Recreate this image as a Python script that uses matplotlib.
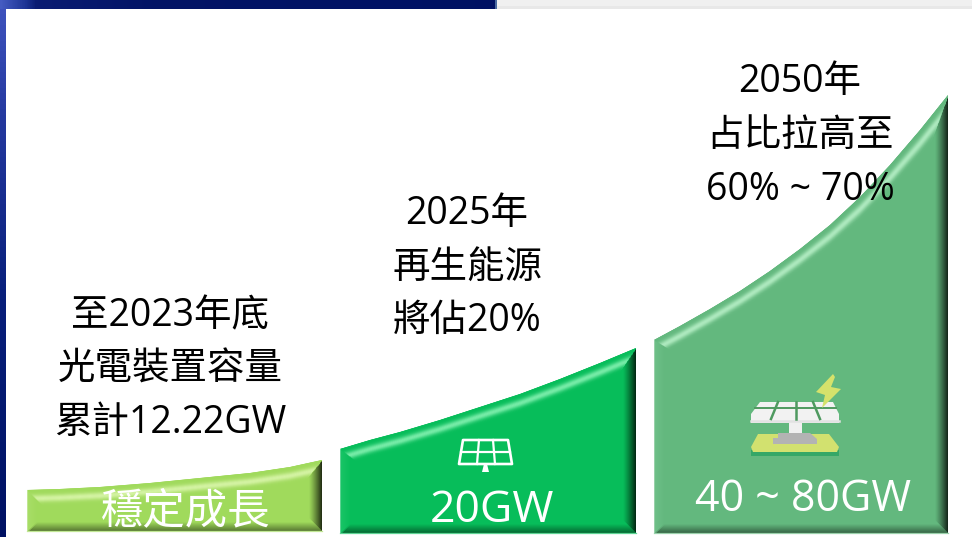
import numpy as np
import matplotlib
matplotlib.use("Agg")
import matplotlib.pyplot as plt
from matplotlib.patches import Polygon, Rectangle
from matplotlib.collections import LineCollection

plt.rcParams['font.family'] = ['Open Sans', 'Noto Sans CJK TC', 'DejaVu Sans']

# top edge of the three growth blocks (pixels)
seg1_x = [27, 60, 100, 150, 200, 250, 290, 322]
seg1_y = [490, 489, 487, 483, 478, 473, 467, 460]
seg1_bottom = 531
seg2_x = [340, 370, 400, 440, 480, 520, 560, 600, 636]
seg2_y = [449, 440, 432, 420, 407, 394, 379, 363, 348]
seg2_bottom = 533
seg3_x = [654, 680, 710, 740, 770, 800, 830, 860, 890, 920, 948]
seg3_y = [340, 326, 309, 291, 271, 249, 225, 197, 165, 130, 95]
seg3_bottom = 533

col_left = ['至2023年底', '光電裝置容量', '累計12.22GW']
col_mid = ['2025年', '再生能源', '將佔20%']
col_right = ['2050年', '占比拉高至', '60% ~ 70%']
block_labels = ['穩定成長', '20GW', '40 ~ 80GW']


def mix(c1, c2, t):
    return tuple(np.array(c1) * (1 - t) + np.array(c2) * t)


def block(ax, xs, ys, bottom, base, light):
    xs = np.array(xs, float)
    ys = np.array(ys, float)
    base = np.array(matplotlib.colors.to_rgb(base))
    light = np.array(matplotlib.colors.to_rgb(light))
    black = np.zeros(3)
    outline = list(zip(xs, ys)) + [(xs[-1], bottom), (xs[0], bottom)]
    shape = Polygon(outline, closed=True, fc=base, ec='none', zorder=2)
    ax.add_patch(shape)
    # slope of the curve, to push the bevel along the normal
    nn = np.sqrt(1 + np.gradient(ys, xs) ** 2)
    w = 17
    for d in np.arange(0, w, 0.5):
        # top band: broad highlight a bit below the edge
        hi = np.exp(-((d - 9) / 3.6) ** 2)
        top_c = mix(base, light, 0.95 * hi)
        right_c = mix(base, black, 0.88 * max(0, 1 - d / 14) ** 1.2)
        bottom_c = mix(base, black, 0.5 * max(0, 1 - d / 10))
        left_c = mix(base, light, 0.15 * max(0, 1 - d / 10))
        # inset outline at distance d
        oy = ys + d * nn
        x0, x1 = xs[0] + d, xs[-1] - d
        keep = (xs > x0) & (xs < x1)
        px = np.r_[x0, xs[keep], x1]
        py = np.r_[np.interp(x0, xs, oy), oy[keep], np.interp(x1, xs, oy)]
        lw = 0.7
        top = LineCollection([np.c_[px, py]], colors=[top_c], linewidths=lw, zorder=3)
        rgt = LineCollection([[(x1, py[-1]), (x1, bottom - d)]], colors=[right_c], linewidths=lw, zorder=3)
        bot = LineCollection([[(x0, bottom - d), (x1, bottom - d)]], colors=[bottom_c], linewidths=lw, zorder=3)
        lft = LineCollection([[(x0, py[0]), (x0, bottom - d)]], colors=[left_c], linewidths=lw, zorder=3)
        for lc in (top, rgt, bot, lft):
            lc.set_clip_path(shape)
            ax.add_collection(lc)
    # thin pale rim at the very bottom
    ax.plot([xs[0], xs[-1]], [bottom, bottom], color=mix(base, np.ones(3), 0.35), lw=0.9, zorder=4)
    ax.plot([xs[0], xs[0]], [ys[0], bottom], color=mix(base, np.ones(3), 0.35), lw=0.7, zorder=4)


def panel_icon(ax):
    # white outlined panel in the 20GW block
    ax.add_patch(Polygon([(463, 440), (508, 440), (512, 464), (459, 464)], closed=True,
                         fc='none', ec='white', lw=1.9, joinstyle='round', zorder=5))
    ax.plot([461, 510], [451.5, 451.5], color='white', lw=1.6, zorder=5)
    ax.plot([479, 477], [440, 464], color='white', lw=1.6, zorder=5)
    ax.plot([493, 495], [440, 464], color='white', lw=1.6, zorder=5)
    ax.add_patch(Polygon([(484, 464), (487, 464), (489, 472), (482, 472)], closed=True,
                         fc='white', ec='none', zorder=5))


def solar_icon(ax):
    # base
    ax.add_patch(Polygon([(751, 450), (839, 450), (839, 456), (751, 456)], closed=True,
                         fc='#35a767', ec='none', zorder=5))
    ax.add_patch(Polygon([(758, 434), (829, 434), (839, 447), (837, 452), (753, 452), (751, 447)],
                         closed=True, fc='#d2e16f', ec='none', zorder=5))
    # stand
    ax.add_patch(Rectangle((789, 422), 13, 12, fc='#f0f0f0', ec='none', zorder=5))
    ax.add_patch(Polygon([(778, 438), (778, 433), (810, 433), (817, 439), (817, 444), (773, 444), (773, 438)],
                         closed=True, fc='#b3b3b3', ec='none', zorder=6))
    # panel
    ax.add_patch(Polygon([(760, 402), (833, 402), (839, 414), (839, 423), (751, 423), (751, 414)],
                         closed=True, fc='#f2f2f2', ec='none', zorder=5))
    ax.plot([751, 839], [420.5, 420.5], color='#e2e2e2', lw=1.8, zorder=6)
    for xa, xb in [(778, 771), (796, 796), (813, 820)]:
        ax.plot([xa, xb], [402, 419], color='#4f9a60', lw=1.8, zorder=6)
    ax.plot([755, 836], [408, 408], color='#4f9a60', lw=1.4, zorder=6)
    # bolt
    ax.add_patch(Polygon([(833, 374), (816, 392), (825, 395), (822, 408), (841, 389),
                          (831, 387), (835, 377)], closed=True, fc='#d5e26b', ec='none', zorder=7))


fig = plt.figure(figsize=(9.72, 5.37), dpi=100)
ax = fig.add_axes([0, 0, 1, 1])
ax.axis('off')

# slide frame: dark blue strip on top, grey on the right, blue edge on the left
blue = np.array([[0.27, 0.36, 0.76], [0.11, 0.20, 0.58], [0.04, 0.11, 0.45], [0.01, 0.08, 0.40], [0.0, 0.07, 0.39]])
pos = np.array([0, 25, 35, 150, 496])
grid = np.linspace(0, 496, 200)
band = np.stack([np.interp(grid, pos, blue[:, i]) for i in range(3)], axis=1)[None, :, :]
ax.imshow(band, extent=[0, 496, 9, 0], aspect='auto', zorder=1)
# left edge goes from light blue at the top to navy at the bottom
grid_v = np.linspace(9, 537, 100)
edge = np.stack([np.interp(grid_v, [9, 120, 300, 537], c) for c in
                 ([0.24, 0.14, 0.03, 0.0], [0.32, 0.22, 0.12, 0.07], [0.74, 0.62, 0.48, 0.39])], axis=1)[:, None, :]
ax.imshow(edge, extent=[0, 5, 537, 9], aspect='auto', zorder=1)
ax.set_xlim(0, 972)
ax.set_ylim(537, 0)
ax.add_patch(Rectangle((496, 0), 476, 9, fc='#f0f0f0', ec='none', zorder=1))
ax.add_patch(Rectangle((496, 6), 476, 3, fc='#e8e8e8', ec='none', zorder=1))
ax.add_patch(Rectangle((495, 0), 2, 9, fc='#4a6aa0', ec='none', zorder=1))

block(ax, seg1_x, seg1_y, seg1_bottom, '#a0da5c', '#d8f5a8')
block(ax, seg2_x, seg2_y, seg2_bottom, '#07bd5a', '#7ff0ae')
block(ax, seg3_x, seg3_y, seg3_bottom, '#63b87e', '#b4eec4')
panel_icon(ax)
solar_icon(ax)

fs = 27
for x, ys, lines in [(170, [316, 370, 423], col_left),
                     (467, [214, 268, 321], col_mid),
                     (800, [82, 136, 190], col_right)]:
    for y, s in zip(ys, lines):
        ax.text(x, y, s, ha='center', va='center', fontsize=fs, color='black', zorder=8)

for x, y, s, size in zip([186, 492, 803], [512, 511, 500], block_labels, [30.5, 32, 31]):
    ax.text(x, y, s, ha='center', va='center', fontsize=size, color='white', zorder=8)

fig.savefig('out.png', dpi=100)
